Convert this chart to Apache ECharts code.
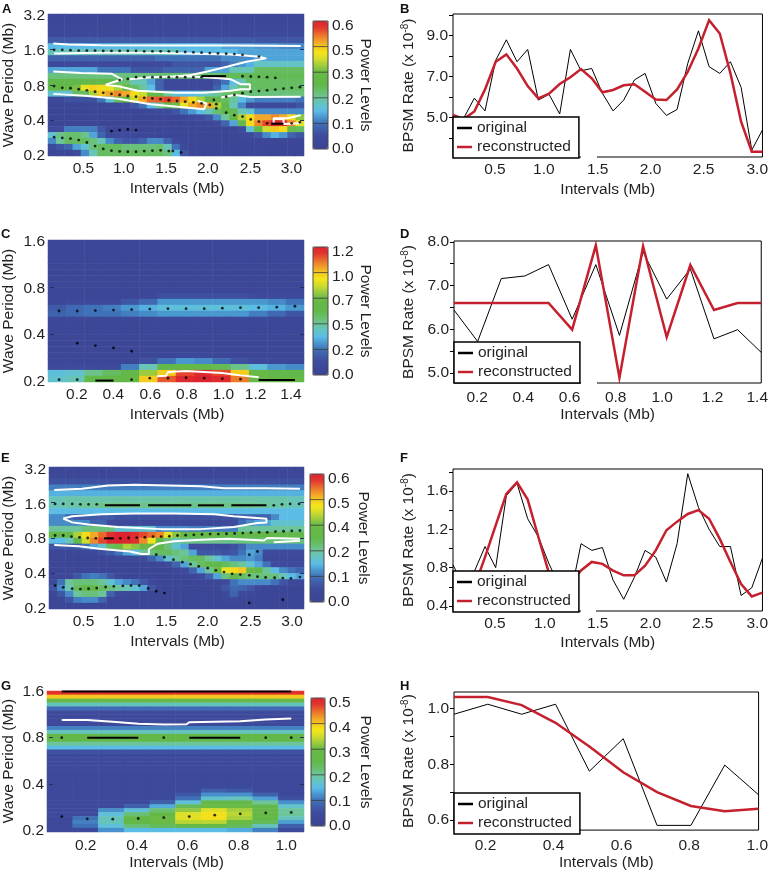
<!DOCTYPE html>
<html><head><meta charset="utf-8">
<style>html,body{margin:0;padding:0;background:#fff}#c{width:771px;height:872px}</style>
<script src="https://cdn.jsdelivr.net/npm/echarts@6/dist/echarts.min.js"></script>
</head><body><div id="c"></div>
<script>
// ---------- power spectra, hundredths of a power unit, rows from longest period to shortest ----------
const aPower=[
[3,3,3,3,3,3,3,3,3,3,3,3,3,3,3,3,3,3,3,3,3,3,3,3,3,3,3,3,3,3,3],
[3,3,3,3,3,3,3,3,3,3,3,3,3,3,3,3,3,3,3,3,3,3,3,3,3,3,3,3,3,3,3],
[4,4,4,4,4,4,4,4,4,4,4,4,4,4,4,4,4,4,4,4,4,4,4,4,4,4,4,4,4,4,4],
[5,5,5,5,5,5,5,5,5,5,5,5,5,5,5,5,5,5,5,5,5,5,5,5,5,5,5,5,5,5,5],
[9,9,9,9,9,9,9,9,9,9,9,9,9,9,9,9,9,9,9,9,9,9,9,9,9,8,8,8,8,8,8],
[18,18,18,18,18,18,18,18,18,18,18,18,18,18,18,18,18,18,18,18,18,16,16,16,16,15,15,15,14,14,14],
[22,22,22,22,22,22,22,22,22,22,22,22,22,22,22,22,18,18,18,18,18,18,18,16,16,16,16,16,16,16,16],
[10,10,10,10,10,10,10,10,10,10,10,10,10,12,12,12,12,12,12,12,12,14,14,14,14,16,16,16,16,16,16],
[5,5,5,5,5,5,5,5,5,5,5,6,6,6,6,8,8,8,8,8,8,10,13,15,17,21,21,21,21,21,21],
[16,16,16,16,16,16,12,12,12,12,8,8,8,8,10,10,10,10,10,16,16,16,22,22,22,28,28,28,28,28,28],
[26,26,26,26,26,26,26,26,26,26,26,26,26,27,27,27,27,27,27,27,27,29,29,29,29,29,29,29,29,29,29],
[30,30,30,30,30,30,30,30,27,27,22,22,16,10,5,5,5,5,5,5,8,12,18,22,28,28,28,28,28,28,28],
[33,33,33,37,44,47,46,44,40,32,28,24,18,10,5,5,5,5,5,5,10,16,22,26,28,28,28,28,28,28,28],
[20,20,20,28,28,40,48,50,52,50,46,42,36,30,24,20,18,18,20,22,24,27,28,28,26,26,26,26,26,26,26],
[4,4,7,7,7,7,12,20,28,34,42,50,54,55,56,54,50,46,40,34,30,28,24,18,15,13,13,13,13,13,12],
[3,3,3,3,3,3,3,4,5,6,8,12,18,24,30,36,44,50,52,50,40,30,22,14,6,6,6,6,6,6,8],
[2,2,2,2,2,2,2,2,2,2,2,3,4,5,6,8,12,15,18,22,27,30,29,22,20,14,14,14,14,14,14],
[2,2,2,2,2,2,2,2,2,2,2,2,2,2,2,2,3,4,6,8,14,24,32,40,46,50,50,52,50,46,38],
[2,2,2,2,2,2,2,2,2,2,2,2,2,2,2,2,2,2,3,4,6,10,16,30,46,52,56,60,58,52,44],
[6,6,13,13,13,13,8,3,2,2,2,2,2,2,2,2,2,2,2,2,2,2,2,6,20,30,42,48,46,36,28],
[20,25,27,27,25,16,10,5,6,6,4,4,4,2,2,2,2,2,2,2,2,2,3,4,6,8,14,17,15,10,8],
[14,24,28,28,28,26,22,14,10,8,8,10,14,14,10,6,3,3,3,3,3,3,3,3,3,3,3,3,3,3,3],
[5,8,10,16,20,26,28,28,28,26,26,26,26,27,22,12,5,2,2,2,2,2,2,2,2,2,2,2,2,2,2],
[2,3,3,5,14,22,28,28,28,28,28,28,28,28,26,18,8,3,2,2,2,2,2,2,2,2,2,2,2,2,2]];
const cPower=[
[5,5,5,5,5,5,5,5,5,5,5,5,5,5],[5,5,5,5,5,5,5,5,5,5,5,5,5,5],[5,5,5,5,5,5,5,5,5,5,5,5,5,5],
[5,5,5,5,5,5,5,5,5,5,5,5,5,5],[5,5,5,5,5,5,5,5,5,5,5,5,5,5],[5,5,5,5,5,5,5,5,5,5,5,5,5,5],
[5,5,5,5,5,5,5,5,5,5,5,5,5,5],[5,5,5,5,5,5,5,5,5,5,5,5,5,5],[5,5,5,5,5,5,5,5,5,5,5,5,5,5],
[5,5,5,5,6,8,14,14,14,14,14,12,12,12],
[6,10,10,10,16,22,30,30,30,30,30,30,28,24],
[18,22,24,26,30,34,38,38,38,38,38,36,34,30],
[20,22,24,24,26,28,30,30,30,30,30,26,22,16],
[8,8,8,8,8,8,7,7,7,7,7,7,6,5],
[5,5,5,5,5,5,5,5,5,5,5,5,5,5],[5,5,5,5,5,5,5,5,5,5,5,5,5,5],[5,5,5,5,5,5,5,5,5,5,5,5,5,5],
[5,5,5,5,5,5,5,5,5,5,5,5,5,5],[5,5,5,5,5,5,5,5,5,5,5,5,5,5],
[5,5,5,5,5,6,6,7,7,6,6,5,5,5],
[5,5,5,5,6,14,24,30,28,22,14,10,7,6],
[9,12,12,12,26,44,60,66,64,58,50,38,30,28],
[38,40,50,56,62,78,95,112,118,112,95,70,60,60],
[40,44,60,62,66,95,110,118,120,118,106,72,64,64]];
const ePower=[
[3,3,3,3,3,3,3,3,3,3,3,3,3,3,3,3,3,3,3,3,3,3,3,3,3,3,3,3,3,3,3],
[4,4,4,4,4,4,4,4,4,4,4,4,4,4,4,4,4,4,4,4,4,4,4,4,4,4,4,4,4,4,4],
[7,7,7,7,7,7,7,7,7,7,7,7,7,7,7,7,7,7,7,7,7,7,7,7,7,7,7,7,7,7,7],
[13,13,13,13,13,13,13,13,13,13,13,13,13,13,13,13,13,13,13,13,13,13,13,13,13,13,13,13,13,13,13],
[17,17,17,17,17,17,17,17,17,17,17,17,17,17,17,17,17,17,17,17,17,17,17,17,17,17,17,17,17,17,17],
[22,22,23,23,23,23,23,23,23,23,23,23,23,23,23,23,23,23,23,23,23,23,23,23,23,23,23,23,23,22,22],
[22,22,23,23,24,24,25,25,25,25,25,25,25,25,25,25,25,25,25,25,25,25,25,25,25,24,24,23,23,22,22],
[18,18,18,18,18,18,18,18,18,18,18,18,18,18,18,18,18,18,18,18,18,18,18,18,18,18,18,18,18,18,18],
[14,14,11,9,9,9,9,9,7,7,7,7,7,7,7,7,7,7,7,7,7,7,7,10,10,10,10,14,18,18,18],
[14,14,14,14,14,10,10,6,6,6,4,4,4,4,4,4,4,4,4,4,4,6,6,11,14,16,16,20,20,20,20],
[24,24,24,24,26,26,26,26,20,20,20,20,20,14,14,14,14,13,13,13,13,13,13,24,24,24,24,24,24,24,24],
[32,32,34,40,46,50,54,58,60,60,58,56,54,52,44,38,34,34,34,34,34,30,30,30,30,30,30,30,30,30,30],
[18,18,22,30,42,52,56,60,60,60,58,52,44,32,26,22,25,25,25,25,25,25,25,26,26,26,26,26,26,26,26],
[8,8,8,9,12,16,20,28,36,40,38,34,32,30,26,20,16,6,6,6,6,6,7,10,14,14,14,14,14,14,14],
[3,3,3,4,4,5,7,9,12,16,18,24,26,28,28,26,24,16,8,8,8,7,8,12,16,14,6,6,6,6,6],
[2,2,2,2,2,2,2,2,4,4,4,6,10,14,20,24,26,28,28,24,20,16,14,14,15,13,4,4,4,4,4],
[2,2,2,2,2,2,2,2,2,2,2,3,3,3,6,10,16,24,28,30,30,28,26,24,20,16,12,6,6,6,6],
[2,2,2,2,2,2,2,2,2,2,2,2,2,2,2,3,5,10,16,24,36,44,46,48,36,30,24,18,14,12,10],
[3,3,3,8,12,13,12,8,4,2,2,2,2,2,2,2,2,3,6,10,16,26,30,28,26,26,26,26,22,18,16],
[6,12,24,26,26,26,24,20,16,14,12,8,4,2,2,2,2,2,2,2,3,6,12,14,14,14,14,12,8,5,4],
[8,14,22,28,30,30,28,26,24,22,20,16,8,4,2,2,2,2,2,2,3,8,11,10,8,4,2,2,2,2,2],
[3,8,14,24,26,26,24,10,6,4,3,2,2,2,2,2,2,2,2,2,2,5,10,6,4,2,2,2,2,2,2],
[2,3,8,13,14,14,10,4,2,2,2,2,2,2,2,2,2,2,2,2,2,3,5,3,2,2,2,2,2,2,2],
[2,2,2,2,2,2,2,2,2,2,2,2,2,2,2,2,2,2,2,2,2,2,2,2,2,2,2,2,2,2,2]];
const gPower=[
[48,48,48,48,48,48,48,48,48,48],[40,40,40,40,40,40,40,40,40,40],[29,29,29,29,29,29,29,29,29,29],
[18,18,18,18,18,18,18,18,18,18],[9,9,9,9,9,9,9,9,9,9],[5,5,5,5,5,5,5,5,5,5],
[4,4,4,4,4,4,4,4,4,4],[4,4,4,4,4,4,4,4,4,4],[4,4,4,4,4,4,4,4,4,4],
[11,11,11,11,11,11,11,11,11,11],[18,18,18,18,18,18,18,18,18,18],[27,27,27,27,27,27,27,27,27,27],
[27,27,27,27,27,27,27,27,27,27],[20,20,20,20,20,20,20,20,20,20],[15,15,15,15,15,15,15,15,15,15],
[6,6,6,6,6,6,6,6,6,6],[4,4,4,4,4,4,4,4,4,4],[4,4,4,4,4,4,4,4,4,4],
[4,4,4,4,4,4,4,4,4,4],[4,4,4,4,4,4,4,4,4,4],[4,4,4,4,4,4,4,4,4,4],
[4,4,4,4,4,4,4,4,4,4],[4,4,4,4,4,4,4,4,4,4],[4,4,4,4,4,4,4,4,4,4],
[4,4,4,4,4,4,4,4,4,4],
[4,4,4,4,4,4,8,7,4,4],
[4,4,4,4,4,7,12,12,8,4],
[4,4,4,4,4,10,17,18,13,6],
[4,4,4,4,8,16,26,26,20,12],
[4,4,4,8,14,24,30,30,25,17],
[4,4,12,16,22,32,36,33,27,20],
[4,4,16,22,28,36,38,34,28,20],
[4,10,18,26,30,36,38,33,27,18],
[4,11,18,26,30,34,34,30,24,13],
[4,10,16,22,24,26,26,24,18,8],
[4,4,12,15,15,15,15,14,11,5]];

// ---------- ridge dots and contours: [interval Mb, octaves above the 0.2 Mb period] ----------
const aDots=[
[.1,2.99],[.2,2.99],[.3,2.98],[.4,2.97],[.5,2.97],[.6,2.97],[.7,2.96],[.8,2.96],[.9,2.96],[1,2.96],[1.1,2.96],[1.2,2.95],[1.3,2.95],[1.4,2.95],[1.5,2.95],[1.6,2.94],[1.7,2.93],[1.8,2.92],[1.9,2.91],[2,2.90],[2.1,2.89],[2.2,2.88],[2.3,2.87],[2.4,2.85],[2.6,2.80],
[.1,1.97],[.2,1.92],[.3,1.91],[.4,1.88],[.5,1.85],[.6,1.81],[.7,1.78],[.8,1.75],[.9,1.72],[1,1.69],[1.1,1.67],[1.2,1.64],[1.3,1.62],[1.4,1.60],[1.5,1.57],[1.6,1.55],[1.7,1.53],[1.8,1.51],[1.9,1.48],[2,1.44],
[2.05,1.58],[2.08,1.46],[2.08,1.34],[2.2,1.22],[2.3,1.15],[2.4,1.11],[2.5,1.03],[2.6,.97],[2.7,.92],[3,.92],[3.1,.95],
[.9,2.14],[1,2.17],[1.1,2.22],[1.2,2.22],[1.3,2.22],[1.4,2.22],[1.5,2.22],[1.6,2.22],[1.7,2.22],[1.8,2.22],[1.9,2.22],[2.4,2.25],[2.5,2.24],[2.6,2.23],[2.7,2.22],[2.8,2.20],
[2.2,1.67],[2.3,1.72],[2.4,1.77],[2.5,1.81],[2.6,1.83],[2.7,1.85],[2.8,1.87],[2.9,1.90],[3,1.92],[3.1,1.94],
[.1,.53],[.2,.51],[.3,.49],[.4,.45],[.5,.38],[.6,.28],[.7,.20],[.8,.15],[.9,.13],[1,.12],[1.1,.12],[1.2,.14],[1.3,.15],[1.4,.16],[1.5,.14],[1.55,.14],[1.65,.10],
[.8,.70],[.9,.73],[1,.75],[1.1,.73]];
const aSolid=[[[1.9,2.25],[2.2,2.25]],[[2.75,.91],[2.9,.91]]];
const aContours=[
[[.09,3.17],[.27,3.14],[.68,3.12],[1.65,3.11],[2.3,3.11],[3.11,3.10]],
[[.10,2.89],[.68,2.91],[1.20,2.91],[1.73,2.89],[2.26,2.86],[2.58,2.80],[2.69,2.75],[2.46,2.66],[2.22,2.52],[1.97,2.38],[1.77,2.28],[1.55,2.23]],
[[.09,2.38],[.43,2.34],[.80,2.32],[.93,2.16],[.84,2.09],[.73,2.01],[.90,1.96],[1.12,1.84],[1.57,1.78],[1.93,1.78],[2.26,1.84],[2.38,1.88],[2.49,1.88],[2.49,2.02],[2.38,2.02],[2.26,2.16],[1.97,2.22],[1.65,2.25],[1.28,2.22],[1.02,2.16]],
[[2.14,1.65],[2.30,1.72],[2.50,1.66],[3.11,1.67]],
[[.09,1.75],[.475,1.70],[.88,1.61],[1.28,1.46],[1.61,1.39],[1.93,1.32],[1.96,1.48],[1.85,1.56]],
[[2.78,.94],[2.78,1.06],[2.94,1.06],[3.11,1.15]],
[[2.78,1.04],[2.90,1.04],[2.90,.90],[3.11,.92]]];
const cDots=[
[.1,1.50],[.2,1.50],[.3,1.51],[.4,1.52],[.5,1.53],[.6,1.54],[.7,1.55],[.8,1.55],[.9,1.55],[1,1.56],[1.1,1.57],[1.2,1.57],[1.3,1.58],[1.4,1.60],
[.2,.82],[.3,.77],[.4,.72],[.5,.65],
[.1,.05],[.2,.05],[.5,.05],[.6,.08],[.7,.08],[.8,.09],[.9,.08],[1,.07],[1.1,.06]];
const cSolid=[[[.3,.03],[.4,.03]],[[1.2,.04],[1.4,.04]]];
const cContours=[[[.64,.12],[.69,.13],[.70,.21],[.80,.23],[.90,.21],[1.0,.19],[1.0,.15],[1.10,.14],[1.10,.11],[1.20,.10]]];
const eDots=[
[.1,2.96],[.2,2.96],[.31,2.96],[.41,2.95],[.51,2.95],[.61,2.95],[2.78,2.92],[2.88,2.95],[2.98,2.96],[3.09,2.96],
[.1,2.07],[.2,2.07],[.3,2.04],[.4,2.02],[.5,2.0],[.6,1.99],[.9,1.99],[1,2.0],[1.1,2.01],[1.2,2.02],[1.3,2.04],[1.4,2.04],[1.5,2.05],[1.6,2.07],[1.7,2.08],[1.8,2.09],[1.9,2.10],[2,2.11],[2.1,2.11],[2.2,2.12],[2.3,2.13],[2.4,2.14],[2.5,2.15],[2.6,2.16],[2.7,2.16],[2.8,2.18],[2.9,2.19],[3,2.20],[3.1,2.21],
[1.34,1.53],[1.44,1.46],[1.55,1.39],[1.66,1.32],[1.76,1.26],[1.86,1.20],[1.97,1.15],[2.07,1.09],[2.17,1.04],[2.27,.99],[2.37,.97],[2.48,.95],[2.58,.91],[2.68,.89],[2.79,.88],[2.89,.87],[2.99,.86],[3.10,.90],
[.10,.66],[.20,.61],[.31,.57],[.41,.56],[.51,.57],[.61,.59],[.72,.62],[.82,.64],[.93,.65],[1.03,.66],[1.13,.66],[1.24,.58],[1.34,.50],[1.44,.45],
[2.48,1.53],[2.58,1.62],[2.48,.17],[2.89,.26]];
const eSolid=[[[.71,2.92],[1.14,2.92]],[[1.24,2.92],[1.77,2.92]],[[1.85,2.92],[2.17,2.92]],[[2.26,2.92],[2.69,2.92]],[[.7,1.99],[.82,1.99]]];
const eContours=[
[[.09,3.35],[.43,3.39],[.75,3.48],[1.08,3.50],[1.48,3.48],[1.89,3.46],[2.17,3.40],[2.66,3.40],[3.10,3.39]],
[[.20,2.55],[.31,2.61],[.67,2.67],[1.08,2.69],[1.56,2.69],[2.05,2.67],[2.29,2.61],[2.69,2.54],[2.69,2.44],[2.58,2.42],[2.29,2.31],[1.89,2.25],[1.40,2.25],[.87,2.31],[.51,2.38],[.31,2.44],[.20,2.55]],
[[.09,1.80],[.39,1.77],[.67,1.69],[1.02,1.62],[1.16,1.55],[1.25,1.55],[1.25,1.69],[1.36,1.84],[1.56,1.91],[1.89,1.95],[2.21,1.98],[2.66,1.93],[2.70,2.0],[3.10,1.98]],
[[2.78,1.88],[3.10,1.92]]];
const gDots=[[.1,2],[.5,2],[.9,2],[1,2],[.1,.31],[.2,.26],[.3,.255],[.4,.27],[.5,.29],[.6,.31],[.7,.34],[.8,.37],[.9,.39],[1,.40]];
const gSolid=[[[.2,2],[.4,2]],[[.6,2],[.8,2]],[[.1,2.99],[1,2.99]]];
const gContours=[[[.10,2.38],[.20,2.38],[.20,2.34],[.30,2.34],[.30,2.30],[.40,2.30],[.40,2.28],[.50,2.28],[.59,2.29],[.60,2.33],[.70,2.34],[.80,2.35],[.80,2.39],[.90,2.39],[1.0,2.41]]];

// ---------- rate series ----------
const bIntervals=[.1,.2,.3,.4,.5,.6,.7,.8,.9,1,1.1,1.2,1.3,1.4,1.5,1.6,1.7,1.8,1.9,2,2.1,2.2,2.3,2.4,2.5,2.6,2.7,2.8,2.9,3];
const bOriginal=[5.13,4.97,5.95,5.33,7.8,8.8,7.73,8.33,5.86,6.14,5.18,8.33,7.29,7.4,6.19,5.33,5.86,6.84,7.16,5.7,5.11,5.4,7.65,9.24,7.49,7.16,7.73,6.48,3.42,4.4];
const bRebuilt=[5.13,4.93,5.3,6.38,7.73,8.09,7.4,6.54,5.94,6.17,6.64,6.97,7.37,6.92,6.24,6.35,6.58,6.63,6.27,5.89,5.86,6.38,7.24,8.38,9.76,9.11,7.16,4.8,3.34,3.34];
const dIntervals=[.1,.2,.3,.4,.5,.6,.7,.8,.9,1,1.1,1.2,1.3,1.4];
const dOriginal=[6.44,5.72,7.16,7.22,7.48,6.23,7.48,5.86,7.77,6.69,7.38,5.78,5.99,5.47];
const dRebuilt=[6.6,6.6,6.6,6.6,6.6,5.99,7.92,4.89,7.9,5.82,7.47,6.44,6.6,6.6];
const fIntervals=bIntervals;
const fOriginal=[.83,.6,.76,1.02,.8,1.55,1.68,1.31,1.12,.84,.6,.5,1.05,.98,1.01,.67,.47,.7,.98,.91,.65,1.05,1.78,1.43,1.2,1.02,1.02,.51,.59,.9];
const fRebuilt=[.6,.55,.6,.91,1.24,1.57,1.69,1.51,1.12,.74,.6,.65,.77,.86,.84,.77,.72,.72,.82,.98,1.19,1.28,1.36,1.4,1.31,1.1,.86,.63,.5,.54];
const hIntervals=[.1,.2,.3,.4,.5,.6,.7,.8,.9,1];
const hOriginal=[.98,1.016,.98,1.016,.775,.892,.58,.58,.797,.69];
const hRebuilt=[1.042,1.042,1.013,.949,.864,.771,.7,.65,.631,.64];

// ---------- tick labels ----------
const periodsA=['0.2','0.4','0.8','1.6','3.2'], periodsC=['0.2','0.4','0.8','1.6'];
const interval05=['0.5','1.0','1.5','2.0','2.5','3.0'];
const interval02c=['0.2','0.4','0.6','0.8','1.0','1.2','1.4'];
const interval02g=['0.2','0.4','0.6','0.8','1.0'];
const powerA=['0.0','0.1','0.2','0.3','0.5','0.6'], powerC=['0.0','0.2','0.5','0.7','1.0','1.2'];
const powerE=['0.0','0.1','0.2','0.4','0.5','0.6'], powerG=['0.0','0.1','0.2','0.3','0.4','0.5'];

const palette=['#3b4596','#3c4798','#3e4b9c','#3f5ba8','#3f72b8','#4a98d0','#5bbde6','#64c3c4','#6cc59a','#68bf6c','#62b84a','#64b846','#6aba46','#9ccc3e','#d0dc2c','#f3e61a','#f5c820','#f19a2a','#ea6a2c','#e2352e','#dc2430'];
const FONT='"Liberation Sans",Arial,sans-serif', INK='#231f20', RED='#c4202e', FS=15.5;

const opt={animation:false,backgroundColor:'#fff',grid:[],xAxis:[],yAxis:[],series:[],visualMap:[],legend:[],graphic:{elements:[]}};
const near=(at,texts)=>v=>{let b=0;at.forEach((a,i)=>{if(Math.abs(a-v)<Math.abs(at[b]-v))b=i});return texts[b]};
function addGrid(box,extra){opt.grid.push(Object.assign({left:box[0],top:box[1],width:box[2]-box[0],height:box[3]-box[1],containLabel:false,show:false},extra||{}));return opt.grid.length-1}
const lab=(m)=>({fontFamily:FONT,fontSize:FS,color:INK,margin:m});
const nameStyle={fontFamily:FONT,fontSize:FS,color:INK};

function heat(p){
  const rows=p.power.length;
  const g0=addGrid(p.box);
  opt.xAxis.push({gridIndex:g0,type:'category',show:false,data:p.power[0].map((_,i)=>i)});
  const xH=opt.xAxis.length-1;
  opt.yAxis.push({gridIndex:g0,type:'category',show:false,data:p.power.map((_,i)=>i)});
  const yH=opt.yAxis.length-1;
  const cells=[];
  p.power.forEach((row,r)=>row.forEach((v,c)=>cells.push([c,rows-1-r,v/100])));
  opt.series.push({type:'heatmap',xAxisIndex:xH,yAxisIndex:yH,data:cells,silent:true,progressive:0,emphasis:{disabled:true},itemStyle:{borderWidth:0}});
  const hi=opt.series.length-1;
  const g1=addGrid(p.box);
  opt.xAxis.push({gridIndex:g1,type:'value',min:p.xr[0],max:p.xr[1],z:6,name:'Intervals (Mb)',nameLocation:'middle',nameGap:p.xGap,nameTextStyle:nameStyle,
    axisLine:{show:false},axisTick:{show:false},splitLine:{show:false},
    axisLabel:Object.assign(lab(p.xMargin),{customValues:p.xAt,formatter:near(p.xAt,p.xTexts)})});
  const xO=opt.xAxis.length-1;
  opt.yAxis.push({gridIndex:g1,type:'value',min:0,max:p.oct,z:6,name:'Wave Period (Mb)',nameLocation:'middle',nameRotate:90,nameGap:p.yGap,nameTextStyle:nameStyle,
    axisLine:{show:false},splitLine:{show:false},
    axisTick:{show:true,inside:true,length:4,lineStyle:{color:'#26305e',width:1},customValues:p.yTicks},
    axisLabel:Object.assign(lab(5),{customValues:p.yAt,formatter:near(p.yAt,p.yTexts)})});
  const yO=opt.yAxis.length-1;
  opt.yAxis.push({gridIndex:g1,type:'value',position:'right',min:0,max:p.oct,z:6,axisLine:{show:false},splitLine:{show:false},axisLabel:{show:false},
    axisTick:{show:true,inside:true,length:4,lineStyle:{color:'#26305e',width:1},customValues:p.yTicks}});
  const common={xAxisIndex:xO,yAxisIndex:yO,silent:true};
  p.contours.forEach(c=>opt.series.push(Object.assign({type:'line',data:c,showSymbol:false,z:3,lineStyle:{color:'#fff',width:2}},common)));
  p.solid.forEach(c=>opt.series.push(Object.assign({type:'line',data:c,showSymbol:false,z:4,clip:false,lineStyle:{color:'#000',width:2}},common)));
  opt.series.push(Object.assign({type:'scatter',data:p.dots,symbolSize:2.8,z:5,itemStyle:{color:'#000'}},common));
  // colour bar: gradient from visualMap, outline and division lines on a value grid above it
  const b=p.bar;
  opt.visualMap.push({type:'continuous',min:0,max:p.max,seriesIndex:hi,show:true,calculable:false,hoverLink:false,left:b[0],top:b[1],itemWidth:b[2]-b[0],itemHeight:b[3]-b[1],padding:0,text:null,inRange:{color:palette}});
  const g2=addGrid(b);
  opt.xAxis.push({gridIndex:g2,type:'value',show:false,min:0,max:1});
  const xB=opt.xAxis.length-1;
  opt.yAxis.push({gridIndex:g2,type:'value',position:'right',min:0,max:p.max,name:'Power Levels',nameLocation:'middle',nameRotate:-90,nameGap:p.barGap,nameTextStyle:nameStyle,
    axisLine:{show:false},splitLine:{show:false},axisTick:{show:false},
    axisLabel:Object.assign(lab(4),{customValues:p.barAt,formatter:near(p.barAt,p.barTexts)})});
  const yB=opt.yAxis.length-1;
  const divs=p.barTexts.map((_,i)=>i*p.max/(p.barTexts.length-1)).slice(1,-1);
  divs.forEach(t=>opt.series.push({type:'line',xAxisIndex:xB,yAxisIndex:yB,data:[[0,t],[1,t]],showSymbol:false,silent:true,z:6,lineStyle:{color:'#3a3a3a',width:.8}}));
  opt.series.push({type:'line',xAxisIndex:xB,yAxisIndex:yB,data:[[0,0],[1,0],[1,p.max],[0,p.max],[0,0]],showSymbol:false,silent:true,clip:false,z:6,lineStyle:{color:'#4a4a4a',width:1}});
}

function rate(p){
  const g=addGrid(p.box,{show:true,borderColor:'#000',borderWidth:1,backgroundColor:'transparent'});
  opt.xAxis.push({gridIndex:g,type:'value',min:p.xr[0],max:p.xr[1],name:'Intervals (Mb)',nameLocation:'middle',nameGap:p.xGap,nameTextStyle:nameStyle,
    axisLine:{show:false},axisTick:{show:false},splitLine:{show:false},
    axisLabel:Object.assign(lab(p.xMargin),{customValues:p.xAt,formatter:near(p.xAt,p.xTexts)})});
  const xi=opt.xAxis.length-1;
  opt.yAxis.push({gridIndex:g,type:'value',min:p.yr[0],max:p.yr[1],name:'BPSM Rate (x 10{s|-8})',nameLocation:'middle',nameRotate:90,nameGap:p.yGap,
    nameTextStyle:Object.assign({rich:{s:{fontFamily:FONT,fontSize:10,color:INK,padding:[0,0,7,0]}}},nameStyle),
    axisLine:{show:false},splitLine:{show:false},
    axisTick:{show:true,length:4,lineStyle:{color:'#000',width:1},customValues:p.yTicks},
    axisLabel:Object.assign(lab(5),{customValues:p.yLabels,formatter:v=>v.toFixed(1)})});
  const yi=opt.yAxis.length-1;
  const mk=(name,vals,color,w,z)=>opt.series.push({name,type:'line',xAxisIndex:xi,yAxisIndex:yi,data:p.x.map((x,i)=>[x,vals[i]]),showSymbol:false,silent:true,z,legendHoverLink:false,itemStyle:{color},lineStyle:{color,width:w,join:'miter'}});
  mk('original',p.orig,'#000',1,2);
  mk('reconstructed',p.rebuilt,RED,2.5,3);
  opt.legend.push({show:true,left:p.box[0],top:p.legendTop,orient:'vertical',data:['original','reconstructed'],selectedMode:false,icon:'rect',itemWidth:15,itemHeight:2.5,itemGap:3,padding:[3,8,3,4],
    backgroundColor:'#fff',borderColor:'#000',borderWidth:1.5,borderRadius:0,z:10,textStyle:{fontFamily:FONT,fontSize:FS,color:INK,padding:0}});
  if(p.gap) opt.graphic.elements.push({type:'rect',z:50,shape:{x:p.gap[0],y:p.box[3]-1.5,width:p.gap[1]-p.gap[0],height:3},style:{fill:'#fff'}});
}

heat({power:aPower,box:[48,14,304,156],xr:[.05,3.15],oct:4,max:.6,
  xAt:[.458,.95,1.467,1.975,2.496,2.997],xTexts:interval05,xMargin:5,xGap:25,yGap:33,
  yAt:[0,.99,1.94,2.96,3.94],yTexts:periodsA,yTicks:[1,2,3],
  dots:aDots,solid:aSolid,contours:aContours,
  bar:[313,21,328,149],barAt:[0,.112,.229,.346,.463,.58],barTexts:powerA,barGap:28});
heat({power:cPower,box:[48,240,304,382],xr:[.05,1.45],oct:3,max:1.2,
  xAt:[.198,.399,.603,.804,1.006,1.183,1.378],xTexts:interval02c,xMargin:5,xGap:25,yGap:33,
  yAt:[0,.99,1.98,2.97],yTexts:periodsC,yTicks:[1,2],
  dots:cDots,solid:cSolid,contours:cContours,
  bar:[313,247,328,375],barAt:[0,.224,.458,.692,.926,1.16],barTexts:powerC,barGap:28});
heat({power:ePower,box:[49,467,304,609],xr:[.05,3.15],oct:4,max:.6,
  xAt:[.448,.942,1.462,1.969,2.496,3.004],xTexts:interval05,xMargin:5,xGap:25,yGap:34,
  yAt:[0,.995,1.97,2.94,3.92],yTexts:periodsA,yTicks:[1,2,3],
  dots:eDots,solid:eSolid,contours:eContours,
  bar:[310,474,324,602],barAt:[0,.112,.229,.346,.463,.58],barTexts:powerE,barGap:31});
heat({power:gPower,box:[47,691,304,832],xr:[.05,1.05],oct:3,max:.5,
  xAt:[.194,.395,.594,.794,.98],xTexts:interval02g,xMargin:7,xGap:23,yGap:32,
  yAt:[0,.99,1.99,2.98],yTexts:periodsC,yTicks:[1,2],
  dots:gDots,solid:gSolid,contours:gContours,
  bar:[311,698,325,826],barAt:[0,.093,.19,.287,.384,.48],barTexts:powerG,barGap:32});

rate({box:[453,14,763,157],xr:[.1,3],yr:[3.08,10.06],x:bIntervals,orig:bOriginal,rebuilt:bRebuilt,
  xAt:[.493,.951,1.456,1.952,2.448,2.951],xTexts:interval05,xMargin:5,xGap:25,yGap:36,
  yLabels:[5,7,9],yTicks:[4,5,6,7,8,9,10],legendTop:117,gap:[581,597]});
rate({box:[454,241,764,383],xr:[.1,1.4],yr:[4.77,8.02],x:dIntervals,orig:dOriginal,rebuilt:dRebuilt,
  xAt:[.198,.393,.589,.784,.981,1.194,1.383],xTexts:interval02c,xMargin:7,xGap:24,yGap:37,
  yLabels:[5,6,7,8],yTicks:[5,5.5,6,6.5,7,7.5,8],legendTop:342,gap:[581,597]});
rate({box:[453,469,764,611],xr:[.1,3],yr:[.348,1.829],x:fIntervals,orig:fOriginal,rebuilt:fRebuilt,
  xAt:[.493,.96,1.456,1.95,2.44,2.951],xTexts:interval05,xMargin:5,xGap:24,yGap:36,
  yLabels:[.4,.8,1.2,1.6],yTicks:[.4,.6,.8,1,1.2,1.4,1.6,1.8],legendTop:571,gap:[581,596]});
rate({box:[454,692,763,833],xr:[.1,1],yr:[.563,1.06],x:hIntervals,orig:hOriginal,rebuilt:hRebuilt,
  xAt:[.193,.394,.595,.795,.996],xTexts:interval02g,xMargin:8,xGap:21,yGap:37,
  yLabels:[.6,.8,1],yTicks:[.6,.7,.8,.9,1],legendTop:793});

[['A',2,3],['B',400,3],['C',1,228],['D',400,228],['E',1,452],['F',400,452],['G',1,680],['H',400,680]].forEach(t=>{
  opt.graphic.elements.push({type:'text',z:60,x:t[1],y:t[2],style:{text:t[0],fontFamily:FONT,fontWeight:'bold',fontSize:13,fill:'#111'}});
});

echarts.init(document.getElementById('c'),null,{renderer:'canvas'}).setOption(opt);
</script></body></html>
